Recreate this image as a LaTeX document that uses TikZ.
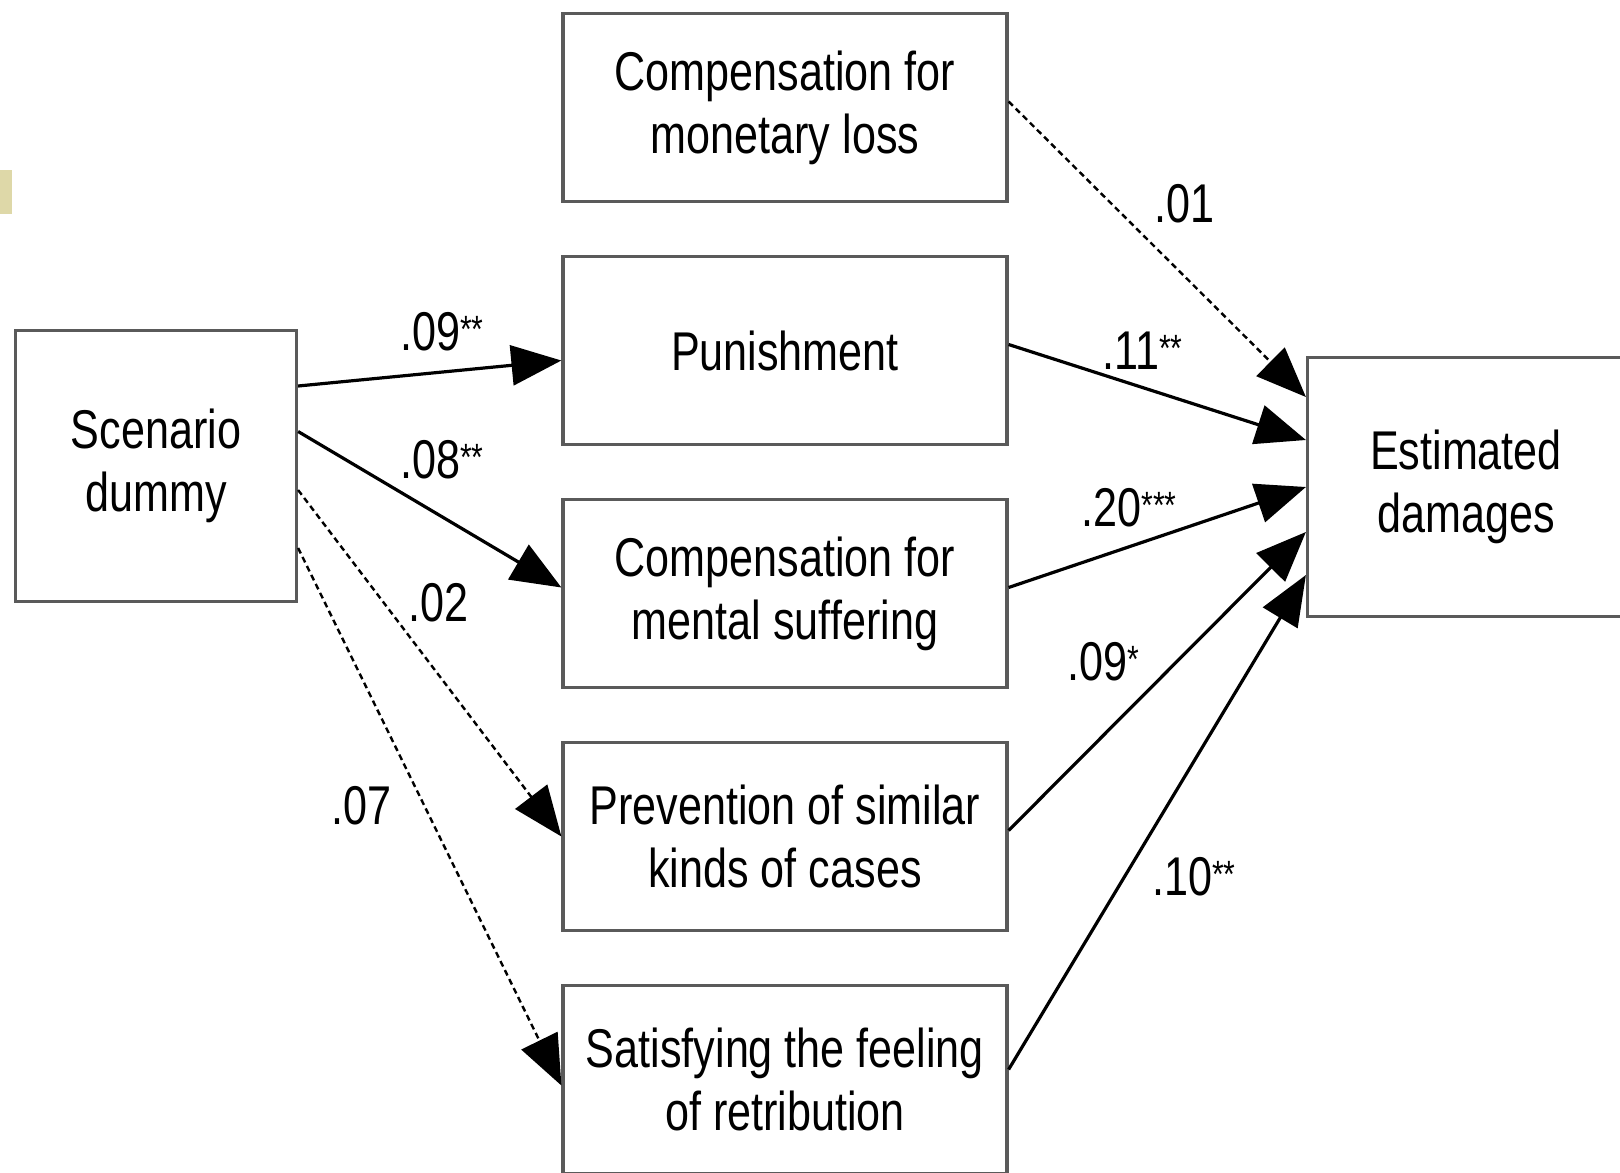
\documentclass[tikz,border=0pt]{standalone}
\usepackage{fontspec}
\setmainfont[FakeStretch=0.79]{Liberation Sans}
\usetikzlibrary{arrows.meta,positioning}
\definecolor{boxgray}{RGB}{90,90,90}
\definecolor{tabkhaki}{RGB}{222,216,168}
\newcommand{\sigstar}[1]{\raisebox{4pt}{\fontsize{19}{19}\selectfont #1}}

\begin{document}
\begin{tikzpicture}[x=0.5pt,y=-0.5pt,on grid,node distance=121.5pt,
    >={Triangle[length=25pt,width=20pt]},
    every node/.style={font=\fontsize{27.3}{31.4}\selectfont}]
  \tikzstyle{factor}=[rectangle,draw=boxgray,line width=1.6pt,fill=white,
    minimum width=222pt,minimum height=94pt,align=center,inner sep=0pt]
  \tikzstyle{coef}=[inner sep=0pt]
  \tikzstyle{sig}=[->,line width=1.6pt]
  \tikzstyle{nonsig}=[->,line width=1.2pt,dash pattern=on 3pt off 2pt]
  \fill[white] (0,0) rectangle (1620,1172);
  \clip (0,0) rectangle (1620,1172);
  \useasboundingbox (0,0) rectangle (1620,1172);
  \fill[tabkhaki] (0,170) rectangle (12.4,214) node[coordinate] (tab) {};

  % Boxes
  \node[factor, minimum width=140.5pt, minimum height=135.5pt] (scen) at (156,466) {Scenario\\dummy};
  \node[factor] (money) at (785,107.5) {Compensation for\\monetary loss};
  \node[factor, below=of money] (punish) {Punishment};
  \node[factor, below=of punish] (mental) {Compensation for\\mental suffering};
  \node[factor, below=of mental] (prevent) {Prevention of similar\\kinds of cases};
  \node[factor, below=of prevent] (retrib) {Satisfying the feeling\\of retribution};
  \node[factor, minimum width=158.5pt, minimum height=129.75pt] (est) at (1466,487) {Estimated\\damages};

  % Paths from the scenario
  \draw[sig] ([yshift=40pt]scen.east) -- node[coef, pos=0.546, above=9.7pt] {.09\sigstar{**}} ([yshift=-5pt]punish.west);
  \draw[sig] ([yshift=17.25pt]scen.east) -- node[coef, pos=0.546, above=17.9pt] {.08\sigstar{**}} ([yshift=3pt]mental.west);
  \draw[nonsig] ([yshift=-12pt]scen.east) -- node[coef, pos=0.535, above=26pt] {.02} (prevent.west);
  \draw[nonsig] ([yshift=-41pt]scen.east) -- node[coef, pos=0.48, left=16pt] {.07} ([yshift=-3pt]retrib.west);

  % Paths to the damages
  \draw[nonsig] ([yshift=3pt]money.east) -- node[coef, pos=0.346, right=21pt] {.01} ([yshift=45pt]est.west);
  \draw[sig] ([yshift=3pt]punish.east) -- node[coef, pos=0.45, above=8.2pt] {.11\sigstar{**}} ([yshift=23.5pt]est.west);
  \draw[sig] ([yshift=3pt]mental.east) -- node[coef, pos=0.405, above=9pt] {.20\sigstar{***}} (est.west);
  \draw[sig] ([yshift=3pt]prevent.east) -- node[coef, pos=0.567, left=18pt] {.09\sigstar{*}} ([yshift=-22.5pt]est.west);
  \draw[sig] ([yshift=5pt]retrib.east) -- node[coef, pos=0.39, right=13pt] {.10\sigstar{**}} ([yshift=-44pt]est.west);
\end{tikzpicture}
\end{document}
